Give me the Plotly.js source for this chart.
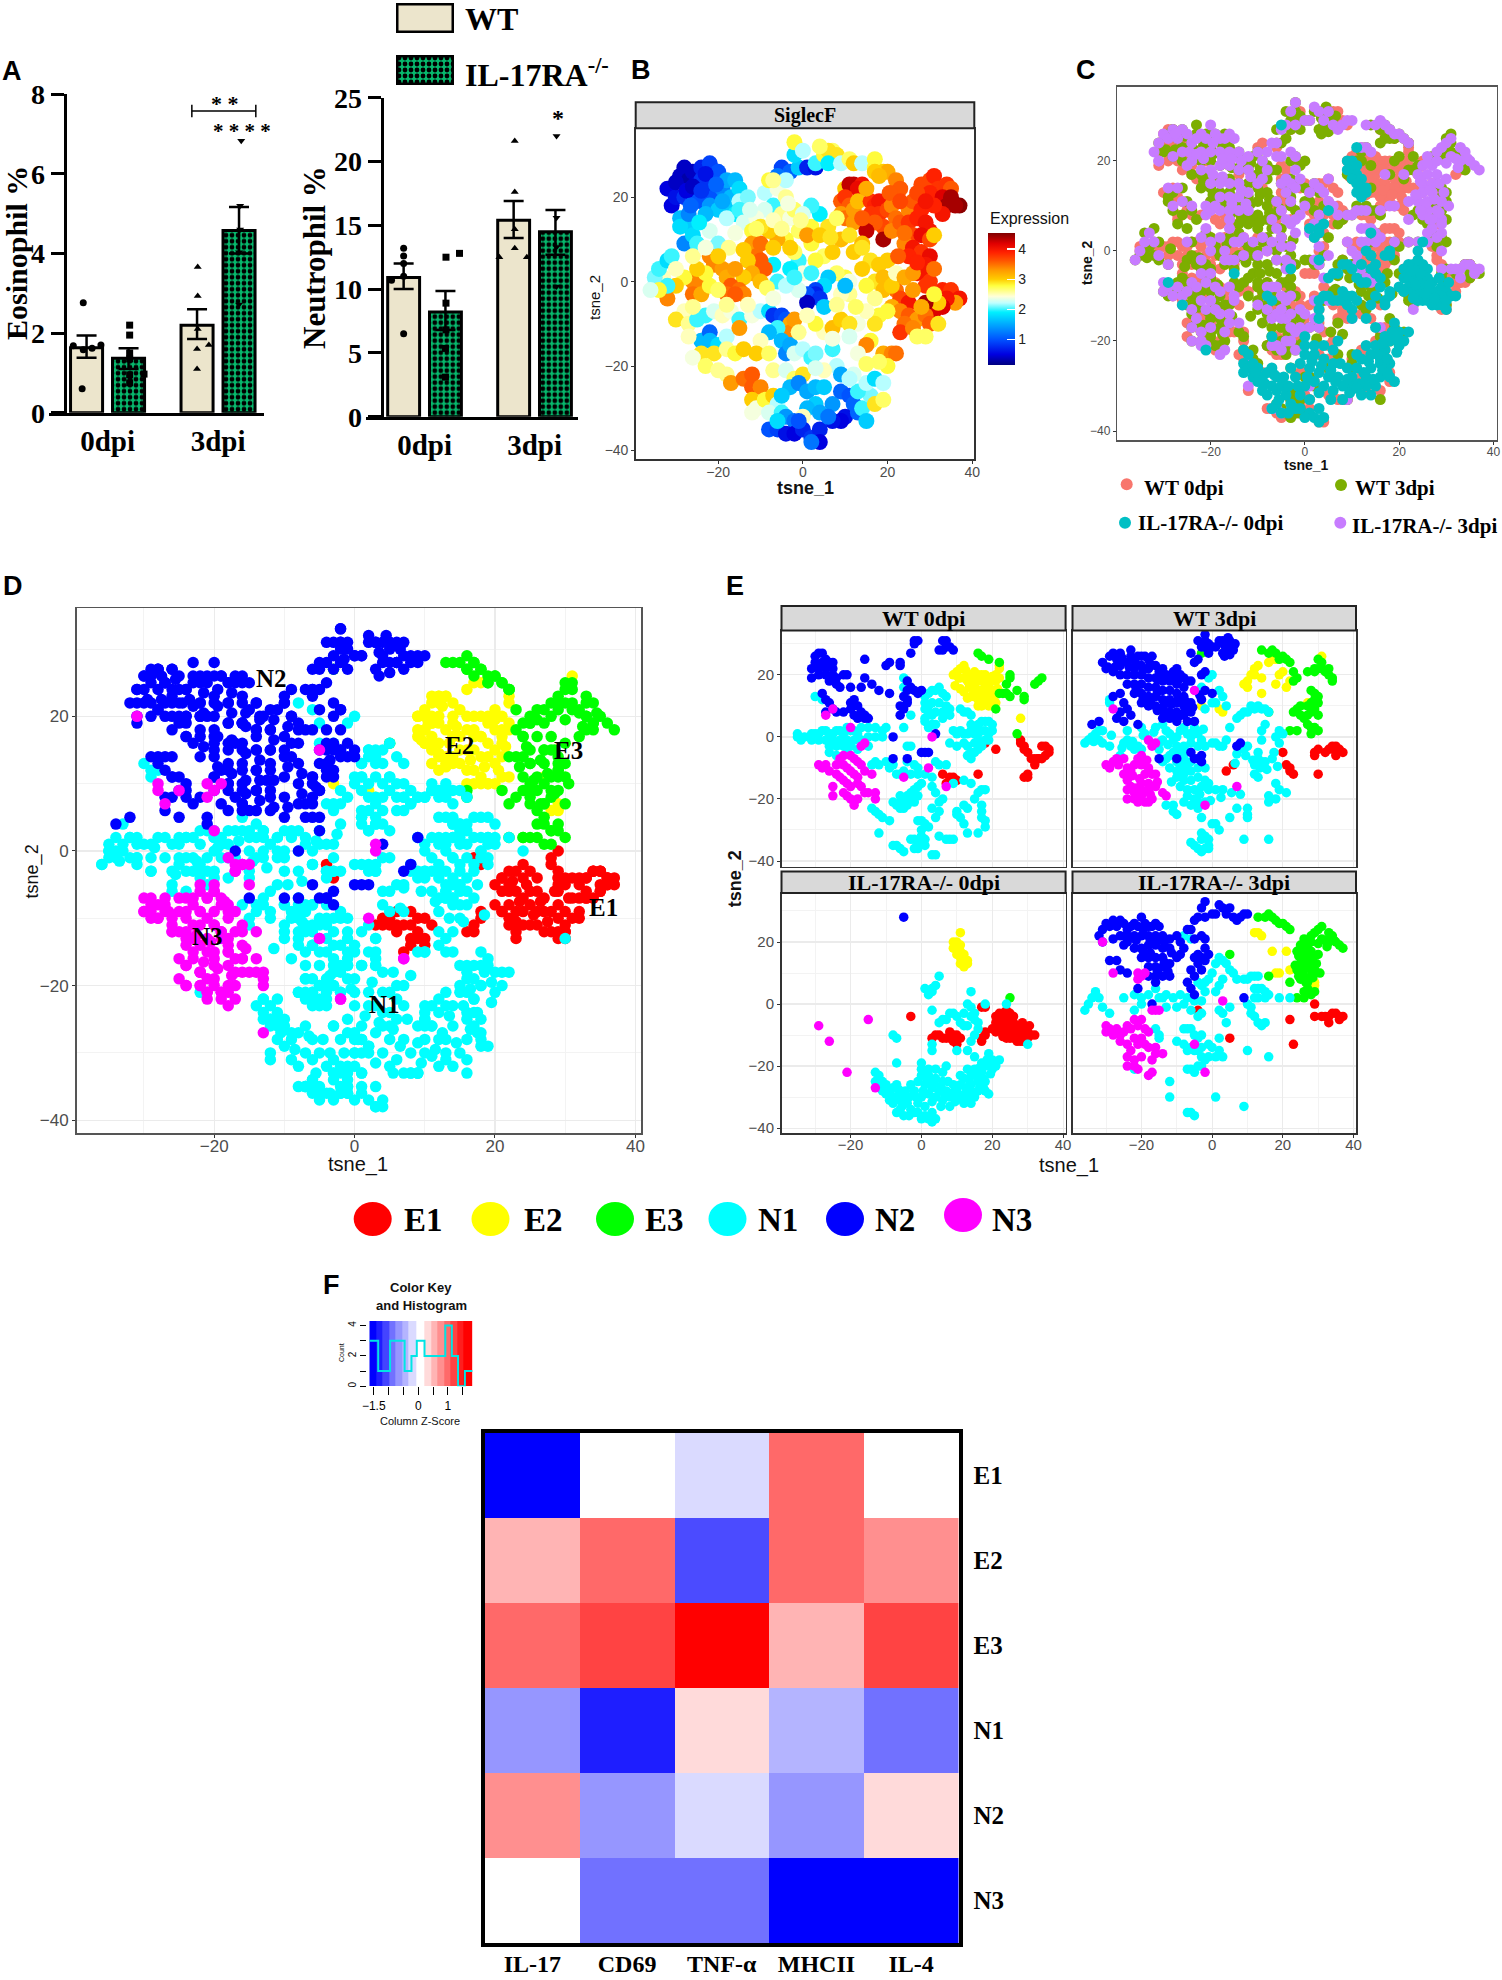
<!DOCTYPE html>
<html>
<head>
<meta charset="utf-8">
<script src="https://cdn.plot.ly/plotly-3.0.1.min.js"></script>
<style>body{margin:0;background:#fff}</style>
</head>
<body>
<div id="fig" style="width:1502px;height:1980px"></div>
<script>
// A: bar values
const dpiLabels = ["0dpi", "3dpi"];
const eosWT = [1.63, 2.2], eosWTup = [0.31, 0.4], eosWTdn = [0.25, 0.35];
const eosKO = [1.37, 4.58], eosKOup = [0.25, 0.59], eosKOdn = [0.27, 0.58];
const neuWT = [10.9, 15.4], neuWTup = [1.1, 1.5], neuWTdn = [0.9, 1.4];
const neuKO = [8.2, 14.5], neuKOup = [1.65, 1.7], neuKOdn = [1.4, 1.8];
// scatter on the bars, x,y pairs
const eosPtsWT0 = [-.31,1.68, -.22,1.58, -.14,1.62, -.06,1.7, -.23,.6, -.22,2.76];
const eosPtsKO0 = [.2,2.2, .2,1.95, .2,1.5, .2,1.35, .2,.95, .33,.97, .2,.75];
const eosPtsWT3 = [.816,3.66, .816,2.93, .816,2.1, .81,1.6, .81,1.1, .917,1.7];
const eosPtsKO3 = [1.21,6.83, 1.2,5.2, 1.2,4.6, 1.19,4.03, 1.19,2.72];
const neuPtsWT0 = [-.19,13.2, -.19,12.6, -.19,12, -.19,11, -.3,10.7, -.19,6.5];
const neuPtsKO0 = [.195,12.5, .318,12.8, .195,8.9, .195,6.8, .19,5.35, .19,3.1];
const neuPtsWT3 = [.82,21.6, .82,17.6, .82,14.7, .82,13.2, .68,12.5, .93,12.5];
const neuPtsKO3 = [1.2,22, 1.2,15.6, 1.2,13.3, 1.2,10.2];

// B: SiglecF, x,y,expression triples
const siglec = [-31,18,.5,-32,22,.5,-30,20,.6,-29,25,.4,-28,27,.4,-27,24,.3,-26,26,.4,-25,23,.5,-24,27,.7,-24,24,.8,-22,23,.8,-22,28,.9,-20,26,1,-21,20,1,-19,22,1.3,-18,24,1.5,-17,20,1.6,-16,24,1.6,-15,22,1.8,-28,20,.8,-26,20,1,-24,19,1,-22,18,1.4,-20,17,1.7,-18,18,1.7,-16,16,1.9,-15,19,2.2,-13,20,2.1,
-29,15,1.6,-27,13,1.7,-29,13,1.8,-28,9,1.3,-27,16,1.3,-26,11,1.8,-25,9,2,-22,12,2.3,-20,9,2.1,-18,15,2.2,-15,17,2,-14,14,2.3,
-9,21,2.2,-7,18,2,-9,17,2.3,-6,22,2.4,-4,20,2.6,-5,16,2.6,-3,15,2.4,-2,17,2.7,-8,24,2.8,-11,15,2.4,
-5,27,.9,-3,26,1.1,-1,27,1.7,1,27,.7,3,27,.6,-2,30,1.8,-2,33,2.8,0,31,2.2,3,28,2,5,30,2.8,7,31,2.7,6,31,2.9,4,32,2.7,8,30,2.9,6,28,1.9,9,28,2.2,11,29,2.7,12,28,3,14,28,2.2,17,29,2.8,-6,25,1.2,-4,24,2.2,-7,24,2.6,
10,22,3,11,23,4.3,12,23,4.3,14,23,4,13,22,4.1,9,19,3.6,10,20,3.8,11,18,3.6,9,16,3.3,10,15,3.5,12,14,3.3,12,17,3.3,13,19,3.1,
17,27,2.8,19,26,3,20,26,3.2,17,26,3,22,24,3.4,23,22,3.6,18,25,3.1,
16,19,3.8,17,18,3.9,18,19,4,16,16,3.8,18,16,3.8,20,17,3.7,19,13,3.7,17,14,3.6,15,12,4.3,19,10,4.4,21,18,3.4,22,15,3.5,21,12,3.4,23,14,3.6,25,17,3.4,26,19,3.6,25,14,3.8,27,15,3.9,26,11,3.7,28,17,3.9,29,14,4,30,12,4,28,11,4.1,30,10,3.7,31,11,3,24,9,3.4,26,8,4,28,7,3.8,30,6,4.1,25,6,3.9,29,4,4,27,2,4,29,2,4,30,0,3.8,29,-1,3.8,
28,23,3.7,30,24,3.7,31,25,3.9,32,22,3.8,30,21,3.9,34,23,3.8,35,22,3.6,33,20,4.2,35,20,4.4,37,18,4.5,34,18,4.4,36,18,4.4,33,16,4,31,18,3.9,27,21,3.7,29,19,4,
33,-2,3.9,35,-2,3.8,37,-4,4,36,-5,3.3,34,-4,4,33,-6,4.2,31,-7,4.2,32,-5,3,29,-5,4.4,31,-3,2.8,
22,-2,3.5,23,-4,3.7,25,-5,4,26,-2,3.3,21,-6,3.2,23,-7,3.4,25,-8,3.6,27,-9,3.3,29,-8,3.5,30,-10,3.6,24,-10,3.5,23,-12,3.8,26,-11,3.4,20,-7,2.8,28,-6,3.2,29,-13,2.7,27,-13,2.7,32,-10,2.9,
16,5,2.9,18,4,3,20,5,3,17,0,2.9,15,-1,2.8,19,1,3.1,19,-2,3.1,21,-1,3,22,2,2.5,24,1,3.2,26,2,3.3,17,-4,2.6,14,3,3,18,-8,2.8,17,-10,2.9,16,-14,2.8,15,-15,3.4,19,-17,3.2,21,-17,3.4,22,-17,3.5,20,-20,2.8,18,-19,2.7,13,-10,2.4,15,-7,2.5,11,-3,2.6,9,-3,2.5,
10,1,2.8,11,0,2.4,8,2,2.7,6,1,1.7,5,-1,1.8,10,-1,1.6,3,-2,.9,3,-3,.7,1,-3,1,4,-4,.8,1,-5,.4,5,-6,1.7,-1,-2,2.3,
2,9,2.8,5,6,2.7,7,7,3,9,10,3.1,11,11,2.9,14,9,3.1,12,7,3,14,8,2.9,3,5,2.8,-1,5,2,0,2,2.4,2,2,2,-3,3,1.9,-6,0,2,-4,-1,2.2,-7,4,1.9,-2,7,2.7,2,13,2.8,4,16,1.9,6,13,2.9,8,15,2.7,2,18,2,0,16,2.3,-1,12,2.7,1,11,3.3,-4,10,2.8,-6,10,3.2,-8,12,3,-10,13,2.9,-12,12,2.8,-12,9,3.3,-10,9,3.5,-7,8,3,-3,8,3,-11,6,3.5,-10,5,3.6,-13,5,3,-9,3,3.6,-12,2,3.2,-10,0,3.1,-14,1,3,
-22,6,3.4,-21,4,3.4,-19,3,3.3,-18,1,3.2,-16,3,3.3,-17,-1,3.6,-15,-2,3.5,-14,-3,3.4,-18,-3,3.5,-16,-3,3.6,-24,-1,3.4,-26,0,3.4,-26,-3,3.5,-24,-3,3.2,-22,-1,2.8,-20,-2,2.7,-28,1,2.8,-30,-1,3,-32,-4,3.4,-33,1,2.5,-35,-1,2.2,-35,1,2.1,-34,3,2,-32,5,1.8,-31,6,2,-30,3,2.5,-32,-1,2,-34,-2,2.8,-36,-2,2.3,-23,2,2.8,-25,3,3,-26,6,2.6,-23,8,2.4,
-28,-7,2.5,-30,-9,2.9,-27,-10,2.6,-25,-9,2,-23,-8,2,-21,-7,2.3,-19,-8,2.5,-17,-7,2.4,-15,-9,2,-24,-14,1.6,-22,-12,1.1,-22,-14,1.6,-20,-15,1.8,-18,-13,2.2,-15,-11,3.3,-27,-13,2.5,-24,-17,2.9,-21,-17,2.9,-18,-16,2.6,-16,-17,2.8,-14,-16,3,-26,-18,2.4,-23,-20,2.7,-20,-21,2.6,-18,-22,2.6,-17,-24,3.3,-14,-23,3.5,-12,-22,3.6,-12,-25,3.6,-10,-25,3.4,
-12,-8,2.4,-10,-7,2.2,-8,-7,1.8,-7,-8,.8,-5,-8,.9,-4,-9,1,-3,-10,3.2,-3,-12,3.4,-2,-9,3.3,-6,-11,2,-8,-12,1.6,-5,-14,1.6,-4,-17,1.3,-3,-15,1.5,-10,-14,2.5,-11,-17,3,-8,-17,2.7,-2,-17,2.3,0,-16,2.2,2,-18,2,3,-17,2.1,5,-12,2.5,3,-10,2.8,7,-11,3.1,9,-9,3,11,-10,2.9,7,-16,2,8,-20,2.2,5,-21,2.5,9,-22,1.5,-7,-21,2.6,-4,-21,2.3,-2,-23,2.7,0,-22,2.9,
-12,-28,3,-11,-30,2.4,-12,-31,2.4,-9,-28,2.8,-7,-27,3,-6,-29,2.2,-8,-31,2.3,-5,-31,2,-3,-25,1.6,-1,-24,1.3,1,-26,1.5,3,-25,1.6,3,-29,1.7,1,-30,1.6,4,-31,1.5,7,-29,1.4,9,-26,1.1,11,-27,1,12,-29,1.1,10,-32,.6,9,-33,.5,7,-33,.6,13,-31,1.1,14,-30,2,16,-27,2.1,17,-29,2.9,15,-33,1.7,13,-26,2,15,-24,2.2,17,-23,1.8,12,-22,2.3,-4,-32,1.4,-2,-33,1.2,0,-32,2.5,-8,-35,1,-6,-35,.9,-4,-36,.6,-2,-36,.5,0,-35,.7,2,-37,.8,4,-35,.7,4,-38,.5,2,-38,1.2,-1,-33,1,
-30,23.5,.4,-27.5,21.5,.5,-26,22.5,.4,-24,21.5,.8,-23,25.5,.6,-20.5,23,1.1,-19,19,1.5,-23,16,1.6,-24.5,14,1.9,-26.5,18,1.1,-12.5,17,2.3,-11,12.5,2.7,-7,14.5,2.5,-5,12.5,2.6,-3.5,18.5,2.4,-.5,14.5,2.6,4,11,3,6.5,10.5,2.9,-16,11.5,2.4,-17.5,8,2.6,-14,7.5,3,-20,6,3,-8.5,-1.5,2.7,-2,1,2,8,-5.5,2.6,12.5,-6,2.7,-18,-5.5,2.6,-13,-5.5,2.5,-26,-6,2.6,-7,-4,2.4,1,-8,2.5,-1,-12,2.6,7,-13.5,2.4,11,-13,2.3,13,-17,2.4,15,-19.5,2.7,3,-20.5,2.3,5,-25,1.7,-5,-27,1.7,11,-23,2.2,19,-24,2.2,19,-28,2.7,6,-32,1.2,-6,-33,1.8,20.5,21,3.6,23,19,3.7,24,11.5,3.5,22.5,6,3.6,27,4.5,3.9,31,3,3.5,15,22,3.2,14,15,3.6];

// C, D, E share these: one x,y pair list per condition and cluster
const wt0E1 = [28,-1,28,-2,29,-3,29,-4,30,-5,31,-7,32,-7,33,-7,34,-7,35,-6,36,-5,36,-4,35,-3,34,-3,33,-7,32,-9,30,-12,30,-13,29,-13,6,-12,8,-13,8,-14,9,-13,10,-14,7,-15,16,-12,21,-4,18,-2];
const wt0E2 = [9,20,10,21,11,22,12,23,11,19,12,19,13,18,14,17,14,20,15,21,16,20,17,20,18,20,19,19,20,18,21,20,22,22,22,23,22,19,15,17,16,18,17,18,18,17,19,16,20,15,21,14,15,15,16,15,17,15,18,14,19,14,20,13,14,13,15,13,16,12,17,12,18,11,19,10,20,10,21,11,17,10,16,10,28,6,10.5,19,12.5,21.5,13.5,16,14.5,18.5,16.5,13.5,18.5,12.5,20.5,12,21.5,15.5,21,18,20,19.5,9.5,16.5,11,15.5,12,14.5,13,12.5];
const wt0E3 = [16,27,17,26,19,25,22,24,25,20,25,19,24,17,23,14,24,14,25,13,27,15,29,13,29,12,32,17,34,19,33,18,22,14,21,9,27,1];
const wt0N1 = [-35,1,-35,0,-34,-1,-33,0,-31,1,-30,1,-29,1,-28,2,-27,2,-26,1,-25,1,-24,2,-23,2,-22,1,-21,3,-20,2,-19,2,-18,1,-17,3,-15,3,-13,3,-11,2,-10,3,-31,-1,-29,-1,-27,-1,-25,-1,-23,-1,-21,-1,-19,-1,-17,-1,-15,0,-13,0,-11,0,-26,-3,-24,-3,-22,-3,-20,-3,-18,-4,-15,-3,-26,-5,-24,-6,-21,-5,-30,13,-28,12,-5,19,-5,16,
1,13,2,14,3,15,4,15,5,16,6,14,7,13,1,11,2,10,3,11,5,11,7,10,1,9,2,8,3,7,4,8,6,8,7,8,8,9,8,7,1,6,1,5,3,4,2,3,4,4,6,6,-5,3,-3,7,
11,9,12,8,13,8,14,7,14,4,15,3,16,4,17,5,18,5,19,5,20,4,9,2,10,1,11,2,12,1,13,1,14,2,15,1,16,1,17,2,18,2,19,1,20,2,8,-2,10,-3,12,-2,13,-3,15,-2,16,-1,17,-2,18,-1,19,-1,14,-5,15,-5,13,-6,14,-7,16,-4,17,-3,
-14,-9,-13,-8,-12,-9,-10,-8,-8,-9,-9,-10,-7,-12,-4,-8,-5,-11,-3,-12,-1,-12,-2,-9,-3,-3,-4,-3,1,-12,3,-13,4,-8,5,-9,7,-9,3,-16,4,-18,9,-15,12,-14,14,-15,17,-17,18,-17,16,-18,15,-20,17,-22,
-7,-22,-6,-21,-5,-20,-6,-19,-4,-19,-3,-18,-2,-17,-1,-16,0,-15,-3,-20,-5,-23,-2,-21,-4,-22,-1,-19,-8,-21,-6,-23,
-14,-23,-13,-24,-12,-25,-11,-26,-9,-27,-12,-31,-8,-35,-7,-35,-6,-36,-5,-37,-3,-33,-2,-33,-1,-34,0,-32,1,-33,1,-35,-1,-36,-2,-36,0,-30,-1,-27,0,-27,1,-28,2,-29,3,-38,4,-38,5,-32,7,-33,8,-33,9,-33,13,-31,16,-31,18,-27,18,-29,17,-26,17,-24,12,-28,11,-26,10,-24,12,-22,13,-23,5,-24,4,-26,3,-23,6,-20,5,-21,10,-25,-6,-12,-1,-10];
const wt0N2 = [-30,26,-29,27,-28,27,-30,24,-28,24,-27,25,-26,24,-25,24,-31,22,-29,22,-27,22,-25,22,-31,19,-29,20,-27,20,-25,20,-24,19,-22,20,-21,20,-26,18,-24,17,-23,16,-20,16,-17,16,-16,19,-14,17,-16,25,-12,15,-9,14,-10,23,-9,24,-6,24,-6,23,-4,18,-3,16,-4,15,-5,13,-4,12,-2,15,0,15,-1,14,-6,10,-5,9,-4,11,-6,7,
-28,14,-27,12,-26,11,-25,9,-24,8,-22,8,-20,11,-19,12,-20,9,-18,10,-17,8,-16,7,-19,7,-18,6,-16,6,-15,6,-27,8,-2,31,-2,30,-1,31,-3,27,6,31,7,31,7,29,6,28,5,28,8,29,9,28,-8,0,-8,-7,-4,-7,1,-5,0,-5,2,-5,4,1];
const wt0N3 = [-29,-9,-28,-10,-27,-9,-26,-11,-24,-9,-23,-7,-22,-6,-20,-6,-19,-7,-18,-8,-17,-9,-22,-9,-21,-10,-20,-11,-19,-12,-18,-13,-16,-11,-14,-12,-17,-3,-16,-2,-24,-12,-23,-13,-22,-14,-21,-15,-18,-15,-17,-16,-20,-16,-25,-16,-25,-19,-22,-18,-21,-19,-20,-20,-19,-21,-18,-20,-16,-18,-15,-18,-13,-18,-13,-20,-19,-22,-27,7,-25,9,-20,3,-5,-13,3,0,2,-10,7,-16];

const wt3E1 = [29,-5,30,-4,29,-6,32,-5,33,-4,34,-3,35,-3,35,-5,36,-4,37,-5,35,-6,30,-12,21,-9,22,-10,22,-11,23,-12,4,-11,6,-9,20,-5];
const wt3E2 = [9,17,10,16,10,18,11,20,12,22,13,23,12,20,14,19,14,14,16,24,17,25,18,25,20,21,19,20,18,17,22,18,21,16,2,9,3,8,-3,10,27,11,31,26];
const wt3E3 = [14,28,16,27,17,28,18,27,19,25,20,26,21,25,22,24,24,19,23,21,30,25,31,24,29,22,30,22,31,22,32,21,33,22,34,19,33,20,34,18,29,21,27,21,23,18,28,15,29,14,30,13,29,12,30,11,28,11,27,10,25,10,24,9,23,8,25,7,26,6,27,7,28,8,29,9,30,7,27,4,28,3,29,3,28,1,30,2,22,2,24,2,16,8,-3,27];
const wt3N1 = [-36,-2,-35,-1,-34,0,-33,1,-32,2,-31,2,-32,-1,-31,-2,-29,-3,-26,-6,-25,-2,-24,-1,-23,-3,-22,-4,-21,-3,-20,-4,-24,2,-20,3,-19,1,-18,-1,-16,3,-14,4,-13,2,-12,1,-11,-1,-10,0,-9,2,-8,3,-7,1,-6,0,-5,3,-4,1,-3,-1,-10,-3,-8,-3,-6,-2,-4,-3,-2,-3,-14,-1,-15,-4,
7,6,8,7,9,8,10,8,11,10,12,9,13,10,14,9,15,9,16,8,4,10,3,13,2,15,-1,19,0,20,-3,16,-29,11,-29,12,0,11,1,11,-2,9,19,2,20,1,18,0,19,-2,15,4,14,2,14,-1,5,3,4,-1,3,-3,2,-3,1,-2,0,-2,10,-3,9,-4,13,-5,13,-7,14,-8,15,-8,17,-7,12,-9,12,-12,13,-13,19,-17,18,-20,21,-18,16,-19,
-14,-8,-13,-7,-12,-6,-11,-5,-10,-8,-9,-9,-8,-7,-7,-9,-6,-8,-12,-10,-10,-11,-8,-12,-6,-11,-4,-10,-2,-10,-10,-13,-8,-14,-6,-14,-4,-13,-2,-14,-1,-15,-9,-16,-7,-17,-5,-17,-3,-16,-1,-17,1,-17,3,-17,-7,-19,-5,-20,-4,-21,-8,-21,-2,-21,-6,-22,-4,-23,
-13,-22,-11,-22,-11,-24,-10,-25,-3,-26,0,-28,1,-28,2,-30,5,-26,7,-23,10,-23,10,-25,10,-26,9,-33,16,-33,-6,-34,-5,-35,-4,-36,-3,-37,-2,-36,-1,-36,-3,-33,-2,-32,-3,-31,-1,-33,-1,-35,16,-21,18,-15,
-33.5,-1.5,-28.5,.5,-25.5,-3.5,-22.5,-1.5,-19.5,.5,-16.5,1.5,-14.5,-1.5,-12.5,-2.5,-9.5,-5,-7.5,-4.5,-5.5,1.5,-2.5,2.5,9.5,-6,11.5,-7.5,13.5,-10,15.5,-10.5,17.5,-5,18.5,-9.5,6.5,-8.5,7,-5.5,-11.5,-14.5,-7.5,-10.5,-3.5,-18.5,-.5,-20.5,2.5,-19.5,5.5,-18,8,-18.5];
const wt3N2 = [-31,24,-30,22,-29,26,-28,27,-27,25,-26,27,-26,23,-28,21,-23,28,-24,24,-23,26,-22,25,-21,26,-20,26,-19,26,-18,25,-17,26,-22,22,-20,23,-18,22,-16,23,-15,21,-14,22,-13,20,-11,21,-10,22,-9,20,-8,19,-7,18,-26,20,-24,20,-22,20,-20,20,-18,19,-16,19,-14,18,-12,18,-10,17,-8,16,-24,17,-22,17,-20,17,-18,16,-16,16,-14,15,-12,15,-10,14,-8,13,-22,14,-20,14,-18,13,-16,13,-14,12,-12,12,-10,11,-8,10,-6,11,-20,11,-18,10,-16,10,-14,9,-12,8,-10,8,-8,7,-6,8,-14,6,-12,6,-10,5,-7,5,-5,5,-26,14,-28,13,-25,11,-24,9,-26,8,-27,6,-25,5,-23,7,-34,4,-32,5,-21,4,-2,15,0,14,-3,12,-6,18,-3,20,-2,21,-4,25,-5,24,
-6,27,-3,29,-2,33,-2,31,-1,30,0,29,1,29,2,31,3,31,4,31,5,31,5,30,4,28,3,27,6,28,-1,27,-15,-7,-10,-7,-6,-5,-5,-7,-4,-7,-3,-8,-3,-6,8,-2,7,-3,
-29.5,22.5,-27.5,22.5,-25.5,25.5,-23.5,22.5,-21.5,23.5,-19.5,21.5,-17.5,23.5,-15.5,18.5,-13.5,19.5,-11.5,19.5,-9.5,18.5,-21.5,15.5,-19.5,12.5,-17.5,11.5,-15.5,14.5,-13.5,10.5,-11.5,10.5,-9.5,12.5,-7.5,11.5,-15.5,8.5,-13.5,7.5,-11.5,6.5,-9.5,6.5,-7.5,8.5,-5.5,9.5,-3.5,13.5,3.5,29.5,4.5,32,6.5,30,3.5,26,5,26.5,-1.5,28.5,-4,31];
const wt3N3 = [-30,-9,-29,-10,-28,-8,-27,-7,-25,-7,-24,-10,-25,-12,-24,-14,-23,-11,-22,-9,-21,-7,-20,-6,-20,-9,-19,-12,-18,-10,-17,-12,-16,-12,-24,-17,-23,-16,-22,-18,-24,-20,-22,-20,-21,-21,-20,-19,-19,-21,-18,-21,-17,-20,-18,-17,-16,-16,-14,-18,-13,-19,-20,-15,-18,-15,-17,-3,-18,-1,-16,-2,-5,15,-28,9,7,-16,-2,-22,-26.5,-9,-22.5,-12.5,-20.5,-13.5,-18.5,-7.5,-15.5,-14.5,-19.5,-17.5,-17.5,-18.5,-21.5,-16.5];

const ko0E1 = [21,-4,22,-3,23,-3,24,-4,25,-3,26,-4,21,-6,22,-6,23,-6,24,-7,25,-6,26,-6,27,-7,22,-8,23,-9,24,-9,25,-8,26,-9,27,-9,28,-9,29,-8,30,-9,31,-10,32,-10,29,-10,24,-11,25,-11,26,-11,27,-12,28,-12,29,-12,30,-11,18,-1,17,-1,24,-2,3,-11,4,-10,5,-10,6,-11,7,-11,8,-9,8,-11,9,-12,9,-10,10,-10,10,-13,11,-11,18,-10,18,-9,17,-11,17,-12,-3,-4,22.5,-4.5,24.5,-5,26.5,-7.5,23.5,-7.5,25.5,-9.5,27.5,-10.5,23,-10.5,20,-8,21,-9,30.5,-7,28.5,-6];
const ko0E2 = [9,20,10,20,11,23,9,18,10,18,11,19,11,17,10,16,12,16,11,15,12,14,13,14,13,13,12,12,11,13];
const ko0E3 = [25,2];
const ko0N1 = [5,9,4,6,3,5,1,5,2,3,3,4,14,4,13,0,14,-1,18,0,15,-3,15,-5,16,-6,5,-6,6,-5,7,-5,8,-3,9,-3,10,-4,11,-6,12,-7,13,-7,14,-4,12,-3,16,-8,24,0,30,-13,3,-2,-8,-10,-7,-11,-7,-19,10,-15,13,-15,14,-12,15,-10,3,-13,3,-15,
-13,-22,-12,-23,-13,-25,-12,-26,-11,-25,-10,-26,-11,-28,-9,-28,-10,-29,-8,-27,-7,-26,-6,-28,-7,-30,-9,-31,-8,-32,-6,-31,-5,-30,-4,-32,-6,-34,-7,-35,-5,-36,-3,-34,-2,-35,-1,-35,1,-36,0,-37,2,-37,3,-38,4,-37,3,-35,-1,-32,1,-33,0,-30,-2,-28,-3,-26,-1,-25,0,-23,0,-21,0,-19,2,-21,4,-21,6,-22,2,-23,4,-24,6,-25,1,-26,3,-27,5,-28,7,-28,2,-29,4,-30,6,-31,8,-30,10,-30,8,-33,9,-26,10,-28,12,-32,14,-32,15,-30,13,-28,11,-26,12,-24,14,-26,16,-28,18,-28,19,-29,14,-23,15,-21,13,-21,16,-24,17,-22,18,-20,20,-21,21,-20,22,-18,20,-18,19,-16,18,-25,17,-19,15,-17,16,-25,13,-30,11,-23,7,-20,
-10.5,-27,-8.5,-29.5,-6.5,-27.5,-4.5,-28,-3.5,-30,-5.5,-33,-3.5,-36,-1.5,-30,.5,-28,1.5,-24.5,3.5,-25.5,5.5,-26.5,7.5,-25,3,-31.5,5.5,-33,6.5,-29,9.5,-31.5,11.5,-29.5,12.5,-27,14.5,-28.5,16.5,-26.5,17.5,-27,15.5,-23,17.5,-24,19.5,-22.5,18.5,-18,19.5,-19.5,16.5,-20.5,13.5,-24.5,11,-30.5,9,-28.5];
const ko0N2 = [-5,28];
const ko0N3 = [-29,-7,-26,-12,-15,-5,-21,-22,-13,-27];

const ko3E1 = [29,0,29,-4,31,-4,32,-4,33,-4,33,-6,34,-3,35,-3,36,-4,37,-4,36,-5,22,-5,23,-13,5,-11,-4,-2];
const ko3E2 = [12,23,13,23,14,22,17,17,21,17,18,10,19,10,22,11,29,7,29,6];
const ko3E3 = [13,28,15,28,16,29,17,28,18,27,19,26,20,26,21,25,22,24,5,16,16,9,22,7,31,25,30,24,29,23,28,22,33,23,34,22,35,20,36,19,37,18,31,21,33,20,26,21,25,19,27,19,24,17,26,17,28,17,25,15,27,15,25,13,27,13,24,11,26,11,29,11,26,9,28,9,25,8,27,7,27,5,28,3,26,2,24,2,26,4,29,4,
24.5,15.5,26.5,13.5,28.5,15,23.5,12.5,25.5,10.5,27.5,11.5,24.5,9,26.5,7,28.5,8.5,30.5,10,29.5,13,30,16,32.5,18.5,34.5,20.5,32,20.5,30,19.5,28,20,26,19.5];
const ko3N1 = [-36,-2,-35,0,-34,2,-33,4,-32,2,-31,-1,-29,-3,-25,2,-22,3,-20,2,-18,3,-16,5,-15,2,-14,2,-13,3,-11,2,-9,3,-7,2,-5,1,-3,1,-2,4,-20,0,-22,-2,-13,-1,-10,-1,-8,0,-6,-2,-3,-3,-6,21,-8,22,0,10,1,13,2,15,3,14,4,13,5,11,6,10,-1,8,-2,7,-3,6,-4,7,3,8,2,6,1,4,
7,8,9,8,10,8,11,9,12,9,13,9,12,5,13,5,14,5,15,4,16,3,15,2,22,2,19,2,12,2,13,2,10,0,11,-1,11,-3,12,-4,13,-6,14,-7,15,-6,5,-1,3,-3,2,-2,4,-6,2,-11,10,-15,16,-17,-4,-4,
-16,-8,-15,-10,-15,-11,-8,-8,-7,-8,-6,-8,-5,-10,-4,-11,-3,-10,-10,-12,-8,-13,-7,-15,-6,-14,-5,-15,-4,-15,-3,-14,-1,-13,0,-14,1,-17,-1,-17,-3,-17,3,-17,2,-15,-7,-21,-6,-21,-5,-22,-4,-20,-3,-20,-2,-18,-12,-25,-12,-30,-7,-35,-6,-35,-5,-36,1,-30,9,-33,-22,-21];
const ko3N2 = [-32,22,-31,20,-31,24,-30,26,-29,25,-28,27,-27,25,-26,27,-25,26,-28,21,-26,22,-25,19,-24,24,-23,25,-22,26,-21,25,-20,28,-19,26,-18,25,-17,25,-16,26,-15,25,-24,20,-22,22,-20,22,-18,22,-16,22,-14,22,-12,21,-10,22,-9,20,-8,18,-9,16,-22,18,-20,18,-18,19,-16,19,-14,18,-12,18,-10,15,-20,15,-18,15,-16,15,-14,15,-12,13,-29,14,-27,14,-26,11,-24,10,-18,12,-16,12,-14,12,-18,9,-16,9,-14,9,-16,7,-12,9,-21,5,
-6,11,-5,9,-7,7,-6,5,-5,3,-4,13,-3,15,-2,14,-4,16,-5,15,-1,16,-3,11,-2,18,-5,21,-6,24,-7,24,-3,22,-2,21,-5,27,-4,28,-2,28,-2,33,-3,31,0,29,1,29,2,32,3,31,4,29,5,31,6,28,7,27,8,28,9,29,10,29,-17,0,9,2,
-27.5,26,-24.5,22,-21.5,20.5,-19.5,24,-17.5,20.5,-15.5,20.5,-13.5,20,-11.5,16.5,-17.5,16.5,-15.5,10.5,-13.5,13.5,-12.5,10.5,-19.5,17,-23,21.5];
const ko3N3 = [-30,-7,-30,-9,-29,-8,-28,-10,-27,-8,-26,-10,-26,-12,-25,-9,-24,-7,-23,-8,-22,-5,-21,-7,-20,-5,-19,-8,-18,-9,-22,-11,-24,-13,-23,-15,-21,-13,-20,-11,-19,-13,-18,-14,-16,-14,-14,-16,-16,-16,-24,-17,-22,-18,-20,-17,-24,-20,-22,-20,-21,-21,-17,-18,-17,-22,-18,-23,-17,-2,-16,-2,-15,-2,-28,10,-21,10,-20,9,-21,8,-19,10,-2,-22,3,1,-5,-13,-31,20];

// F: heatmap z-scores and the colour key histogram
const heatCols = ["IL-17", "CD69", "TNF-α", "MHCII", "IL-4"];
const heatRows = ["E1", "E2", "E3", "N1", "N2", "N3"];
const heatZ = [
  [-1.7, 0, -.25, 1, 0],
  [.5, 1, -1.2, 1, .75],
  [1, 1.25, 1.7, .5, 1.25],
  [-.7, -1.5, .25, -.5, -.95],
  [.75, -.7, -.25, -.7, .25],
  [0, -.95, -.95, -1.7, -1.7]
];
const keyEdges = [-1.65,-1.43,-1.21,-.99,-.77,-.55,-.33,-.05,.21,.43,.65,.87,1.09,1.31,1.53,1.83];
const keyLevels = [-1.7,-1.5,-1.25,-.95,-.7,-.5,-.25,0,.25,.5,.75,1,1.25,1.5,1.7];
const histX = [-1.65,-1.35,-.95,-.46,-.23,-.05,.21,.91,1.13,1.34,1.57,1.83];
const histY = [3,1,3,1,2,3,2,4,2,0,1,1];

const SERIF = "Liberation Serif", SANS = "Liberation Sans";
const W = 1502, H = 1980;
const xs = a => a.filter((v, i) => i % 2 === 0);
const ys = a => a.filter((v, i) => i % 2 === 1);
const domX = (l, r) => [l / W, r / W];
const domY = (t, b) => [1 - b / H, 1 - t / H];

const conditions = [
  {name: "WT 0dpi", color: "#F8766D", cl: [wt0E1, wt0E2, wt0E3, wt0N1, wt0N2, wt0N3]},
  {name: "WT 3dpi", color: "#7CAE00", cl: [wt3E1, wt3E2, wt3E3, wt3N1, wt3N2, wt3N3]},
  {name: "IL-17RA-/- 3dpi", color: "#C77CFF", cl: [ko3E1, ko3E2, ko3E3, ko3N1, ko3N2, ko3N3]},
  {name: "IL-17RA-/- 0dpi", color: "#00BFC4", cl: [ko0E1, ko0E2, ko0E3, ko0N1, ko0N2, ko0N3]}
];
const clusterColors = ["#ff0000", "#ffff00", "#00ff00", "#00ffff", "#0000ff", "#ff00ff"];
const clusterNames = ["E1", "E2", "E3", "N1", "N2", "N3"];

const traces = [];
const layout = {width: W, height: H, margin: {l: 0, r: 0, t: 0, b: 0}, showlegend: false,
  paper_bgcolor: "#fff", plot_bgcolor: "#fff", annotations: [], shapes: []};

function ann(x, y, text, size, opts) {
  layout.annotations.push(Object.assign({xref: "paper", yref: "paper", x: x / W, y: 1 - y / H, text: text,
    showarrow: false, xanchor: "center", yanchor: "middle",
    font: {family: SERIF, size: size, color: "#000", weight: 700}}, opts || {}));
}
function sansAnn(x, y, text, size, color, opts) {
  ann(x, y, text, size, Object.assign({font: {family: SANS, size: size, color: color || "#111"}}, opts || {}));
}

// A
const KO_GREEN = "#06b86c";
const KO_PATTERN = {shape: ".", fgcolor: "#000", bgcolor: KO_GREEN, size: 6, solidity: .5};
function barPanel(n, xDom, yDom, yPos, yMax, dtick, xRange, wt, wtUp, wtDn, ko, koUp, koDn, pts) {
  const xa = "x" + n, ya = "y" + n;
  const base = {type: "bar", xaxis: xa, yaxis: ya, width: [.29, .29], cliponaxis: false};
  const err = (u, d) => ({type: "data", symmetric: false, array: u, arrayminus: d, color: "#000", thickness: 2.5, width: 10});
  traces.push(Object.assign({}, base, {x: [-.19, .81], y: wt, marker: {color: "#ece5cc", line: {color: "#000", width: 3}}, error_y: err(wtUp, wtDn)}));
  traces.push(Object.assign({}, base, {x: [.19, 1.19], y: ko,
    marker: {color: KO_GREEN, line: {color: "#000", width: 3}, pattern: KO_PATTERN},
    error_y: err(koUp, koDn)}));
  pts.forEach((p, i) => traces.push({type: "scatter", mode: "markers", xaxis: xa, yaxis: ya, x: xs(p), y: ys(p), cliponaxis: false,
    marker: {color: "#000", size: 7, symbol: ["circle", "square", "triangle-up", "triangle-down"][i]}}));
  layout["xaxis" + n] = {domain: domX(xDom[0], xDom[1]), range: xRange, anchor: ya, tickvals: [0, 1], ticktext: dpiLabels,
    ticks: "", showline: true, linecolor: "#000", linewidth: 3, zeroline: false, showgrid: false,
    tickfont: {family: SERIF, size: 29, color: "#000", weight: 700}};
  layout["yaxis" + n] = {domain: domY(yDom[0], yDom[1]), range: [0, yMax], anchor: "free", position: yPos / W, dtick: dtick,
    ticks: "outside", ticklen: 13, tickwidth: 3, tickcolor: "#000", showline: true, linecolor: "#000", linewidth: 3,
    zeroline: false, showgrid: false, tickfont: {family: SERIF, size: 28, color: "#000", weight: 700}};
}
barPanel(1, [49, 264], [94.3, 412.7], 64.5, 8, 2, [-.53, 1.416], eosWT, eosWTup, eosWTdn, eosKO, eosKOup, eosKOdn,
  [eosPtsWT0, eosPtsKO0, eosPtsWT3, eosPtsKO3]);
barPanel(2, [365.8, 578], [97.7, 416.7], 381.6, 25, 5, [-.534, 1.395], neuWT, neuWTup, neuWTdn, neuKO, neuKOup, neuKOdn,
  [neuPtsWT0, neuPtsKO0, neuPtsWT3, neuPtsKO3]);
traces.push({type: "scatter", mode: "lines+markers", xaxis: "x1", yaxis: "y1", x: [.763, 1.342], y: [7.58, 7.58],
  line: {color: "#000", width: 1.5}, marker: {symbol: "line-ns-open", size: 9, color: "#000", line: {width: 1.5, color: "#000"}}, cliponaxis: false});
ann(224.6, 103, "* *", 22);
ann(242, 131, "* * * *", 21);
ann(558, 118, "*", 24);
ann(17, 253, "Eosinophil %", 30, {textangle: -90});
ann(314, 258, "Neutrophil %", 31, {textangle: -90});

// legend swatches of A
[[3, "#ece5cc", null, [3, 33]], [4, KO_GREEN, true, [55, 85]]].forEach(s => {
  const n = s[0];
  const marker = {color: s[1], line: {color: "#000", width: 5}};
  if (s[2]) marker.pattern = KO_PATTERN;
  traces.push({type: "bar", xaxis: "x" + n, yaxis: "y" + n, x: [0], y: [1], width: [1], marker: marker, cliponaxis: false});
  layout["xaxis" + n] = {domain: domX(396, 454), range: [-.5, .5], anchor: "y" + n, visible: false};
  layout["yaxis" + n] = {domain: domY(s[3][0], s[3][1]), range: [0, 1], anchor: "x" + n, visible: false};
});
ann(463, 19, "WT", 32, {xanchor: "left"});
ann(463, 73, "IL-17RA<sup>-/-</sup>", 32, {xanchor: "left"});

// tsne panels
function tsneAxes(n, xd, yd, xr, yr, fontSize, opts) {
  opts = opts || {};
  const tick = {ticks: "outside", ticklen: 3, tickwidth: 1, tickcolor: "#333",
    tickfont: {family: SANS, size: fontSize, color: "#4d4d4d"}, showline: true, mirror: true,
    linecolor: opts.line || "#555", linewidth: 1.5, zeroline: false, dtick: 20, tick0: 0,
    showgrid: !!opts.grid, gridcolor: "#ebebeb", gridwidth: 1.2};
  if (opts.grid) tick.minor = {dtick: 10, showgrid: true, gridcolor: "#f3f3f3", gridwidth: 1};
  layout["xaxis" + n] = Object.assign({domain: domX(xd[0], xd[1]), range: xr, anchor: "y" + n, ticklabelstandoff: opts.xStandoff || 0}, tick,
    opts.noX ? {showticklabels: false, ticks: ""} : {});
  layout["yaxis" + n] = Object.assign({domain: domY(yd[0], yd[1]), range: yr, anchor: "x" + n}, tick,
    opts.noY ? {showticklabels: false, ticks: ""} : {});
}
function strip(l, r, t, b, text, size) {
  layout.shapes.push({type: "rect", xref: "paper", yref: "paper", x0: l / W, x1: r / W, y0: 1 - t / H, y1: 1 - b / H,
    fillcolor: "#d9d9d9", line: {color: "#222", width: 2}});
  ann((l + r) / 2, (t + b) / 2, text, size);
}

// B
traces.push({type: "scatter", mode: "markers", xaxis: "x5", yaxis: "y5",
  x: siglec.filter((v, i) => i % 3 === 0), y: siglec.filter((v, i) => i % 3 === 1),
  marker: {size: 16, color: siglec.filter((v, i) => i % 3 === 2), cmin: .15, cmax: 4.54, line: {width: 0},
    colorscale: [[0, "#00007f"], [.08, "#0000e0"], [.19, "#0050ff"], [.31, "#00aaff"], [.4, "#00f0ff"], [.47, "#bfffff"], [.52, "#ffffd8"],
      [.6, "#ffff40"], [.65, "#ffcc00"], [.72, "#ff9900"], [.79, "#ff5500"], [.855, "#ff2000"], [.92, "#e00000"], [1, "#800000"]],
    colorbar: {x: 987.7 / W, xanchor: "left", xpad: 0, y: 1 - 365 / H, yanchor: "bottom", ypad: 0, lenmode: "pixels", len: 132,
      thicknessmode: "pixels", thickness: 27, tickvals: [1, 2, 3, 4], ticks: "inside", ticklen: 8, tickwidth: 1.5, tickcolor: "#fff",
      outlinewidth: 0, tickfont: {family: SANS, size: 14, color: "#222"}}}});
tsneAxes(5, [635.7, 974.3], [128.3, 459], [-39.5, 40.5], [-42, 36.3], 14, {line: "#333", xStandoff: -3});
strip(635.7, 974.3, 102.3, 128.3, "SiglecF", 20);
sansAnn(805.7, 488, "tsne_1", 18, "#111", {font: {family: SANS, size: 18, color: "#111", weight: 700}});
sansAnn(595, 298, "tsne_2", 15, "#111", {textangle: -90});
sansAnn(1029, 218, "Expression", 16);

// C
conditions.forEach(c => {
  const all = [].concat(...c.cl);
  traces.push({type: "scatter", mode: "markers", xaxis: "x6", yaxis: "y6", x: xs(all), y: ys(all),
    marker: {size: 11, color: c.color, line: {width: 0}}});
});
tsneAxes(6, [1117.3, 1496.7], [86.7, 440], [-39.8, 40.7], [-42, 36.5], 12, {line: "#555", xStandoff: -3});
sansAnn(1306.7, 465, "tsne_1", 14, "#111", {font: {family: SANS, size: 14, color: "#111", weight: 700}});
sansAnn(1087, 263, "tsne_2", 14, "#111", {textangle: -90, font: {family: SANS, size: 14, color: "#111", weight: 700}});
[[1126.7, 484.3, "#F8766D"], [1341, 485, "#7CAE00"], [1125, 522.7, "#00BFC4"], [1340.3, 522.7, "#C77CFF"]].forEach(d =>
  layout.shapes.push({type: "circle", xref: "paper", yref: "paper", x0: (d[0] - 6) / W, x1: (d[0] + 6) / W,
    y0: 1 - (d[1] - 6) / H, y1: 1 - (d[1] + 6) / H, fillcolor: d[2], line: {width: 0}}));
ann(1141.7, 488, "WT 0dpi", 21, {xanchor: "left"});
ann(1353, 488, "WT 3dpi", 21, {xanchor: "left"});
ann(1136, 523, "IL-17RA-/- 0dpi", 21, {xanchor: "left"});
ann(1350, 525.7, "IL-17RA-/- 3dpi", 21, {xanchor: "left"});

// D
clusterNames.forEach((nm, k) => {
  const all = [].concat(...conditions.map(c => c.cl[k]));
  traces.push({type: "scatter", mode: "markers", xaxis: "x7", yaxis: "y7", x: xs(all), y: ys(all),
    marker: {size: 11.5, color: clusterColors[k], line: {width: 0}}});
});
tsneAxes(7, [76.6, 641], [608, 1133], [-39.6, 40.8], [-41.9, 36.1], 17, {grid: true, xStandoff: -6});
[["N2", -11.8, 25.7], ["E2", 15, 15.6], ["E3", 30.5, 15], ["E1", 35.5, -8.4], ["N3", -21, -12.7], ["N1", 4.3, -22.8]].forEach(l =>
  layout.annotations.push({xref: "x7", yref: "y7", x: l[1], y: l[2], text: l[0], showarrow: false,
    font: {family: SERIF, size: 25, color: "#000", weight: 700}}));
sansAnn(358, 1164, "tsne_1", 20, "#111");
sansAnn(32.4, 871, "tsne_2", 18, "#111", {textangle: -90});

// E
const eFacets = [
  {n: 8, c: 0, xd: [781.5, 1065.6], yd: [630.5, 866.6], yr: [-41.8, 34.3], noX: true, noY: false, strip: [606, 630.5]},
  {n: 9, c: 1, xd: [1072.5, 1356], yd: [630.5, 866.6], yr: [-41.8, 34.3], noX: true, noY: true, strip: [606, 630.5]},
  {n: 10, c: 3, xd: [781.5, 1065.6], yd: [893, 1133.4], yr: [-41.7, 35.8], noX: false, noY: false, strip: [871.6, 893]},
  {n: 11, c: 2, xd: [1072.5, 1356], yd: [893, 1133.4], yr: [-41.7, 35.8], noX: false, noY: true, strip: [871.6, 893]}
];
eFacets.forEach(f => {
  const c = conditions[f.c];
  c.cl.forEach((p, k) => traces.push({type: "scatter", mode: "markers", xaxis: "x" + f.n, yaxis: "y" + f.n, x: xs(p), y: ys(p),
    marker: {size: 9.5, color: clusterColors[k], line: {width: 0}}}));
  tsneAxes(f.n, f.xd, f.yd, [-39.5, 40.7], f.yr, 15, {grid: true, noX: f.noX, noY: f.noY, line: "#333", xStandoff: -6});
  strip(f.xd[0], f.xd[1], f.strip[0], f.strip[1], c.name, 22);
});
sansAnn(1068.6, 1165, "tsne_1", 20, "#111");
sansAnn(734.7, 878.5, "tsne_2", 18, "#111", {textangle: -90, font: {family: SANS, size: 18, color: "#111", weight: 700}});

// cluster legend
[372.7, 490.5, 615, 727.5, 845, 963].forEach((cx, k) => {
  const cy = k === 5 ? 1215 : 1219;
  layout.shapes.push({type: "circle", xref: "paper", yref: "paper", x0: (cx - 19) / W, x1: (cx + 19) / W,
    y0: 1 - (cy - 17) / H, y1: 1 - (cy + 17) / H, fillcolor: clusterColors[k], line: {width: 0}});
});
[402, 522, 643, 756, 873, 990].forEach((tx, k) => ann(tx, 1220, clusterNames[k], 33, {xanchor: "left"}));

// F colour key
const bwr = [[0, "#0000ff"], [.5, "#ffffff"], [1, "#ff0000"]];
traces.push({type: "heatmap", xaxis: "x12", yaxis: "y12", x: keyEdges, y: [0, 4.3], z: [keyLevels],
  zmin: -1.7, zmax: 1.7, colorscale: bwr, showscale: false});
traces.push({type: "scatter", mode: "lines", xaxis: "x12", yaxis: "y12", x: histX, y: histY,
  line: {shape: "hv", color: "#00e5e5", width: 2}});
layout.xaxis12 = {domain: domX(369.3, 472.6), range: [-1.65, 1.83], anchor: "y12", tickvals: [-1.5, 0, 1],
  ticktext: ["−1.5", "0", "1"], ticks: "outside", ticklen: 8, tickwidth: 1, tickcolor: "#000", tickangle: 0,
  minor: {tickvals: [-1, -.5, .5, 1.5], ticks: "outside", ticklen: 8, tickwidth: 1, tickcolor: "#000"},
  tickfont: {family: SANS, size: 12, color: "#000"}, showgrid: false, zeroline: false};
layout.yaxis12 = {domain: domY(1321, 1386.3), range: [0, 4.3], anchor: "free", position: 366 / W, tickvals: [0, 2, 4],
  ticks: "outside", ticklen: 6, tickwidth: 1, tickcolor: "#000", tickangle: -90,
  minor: {tickvals: [1, 3], ticks: "outside", ticklen: 6, tickwidth: 1, tickcolor: "#000"},
  tickfont: {family: SANS, size: 10, color: "#000"}, showgrid: false, zeroline: false};
ann(421, 1287, "Color Key", 13, {font: {family: SANS, size: 13, color: "#111", weight: 700}});
ann(421, 1305, "and Histogram", 13, {font: {family: SANS, size: 13, color: "#111", weight: 700}});
sansAnn(420, 1421, "Column Z-Score", 11, "#111");
sansAnn(341, 1353, "Count", 7, "#111", {textangle: -90});

// F heatmap
traces.push({type: "heatmap", xaxis: "x13", yaxis: "y13", x: heatCols, y: heatRows, z: heatZ,
  zmin: -1.7, zmax: 1.7, colorscale: bwr, showscale: false});
layout.xaxis13 = {domain: domX(485, 958.5), anchor: "y13", ticks: "", showline: true, mirror: true, linecolor: "#000", linewidth: 4,
  type: "category", ticklabelstandoff: -4, tickfont: {family: SERIF, size: 24, color: "#000", weight: 700}, showgrid: false, zeroline: false};
layout.yaxis13 = {domain: domY(1433, 1943), anchor: "x13", side: "right", autorange: "reversed", type: "category", ticks: "",
  showline: true, mirror: true, linecolor: "#000", linewidth: 4, ticklabelstandoff: 6,
  tickfont: {family: SERIF, size: 25, color: "#000", weight: 700}, showgrid: false, zeroline: false};

// panel letters
[["A", 12, 71], ["B", 641, 70], ["C", 1086, 70], ["D", 13, 586], ["E", 735, 586], ["F", 331, 1285]].forEach(p =>
  ann(p[1], p[2], p[0], 27, {font: {family: SANS, size: 27, color: "#000", weight: 700}}));

Plotly.newPlot("fig", traces, layout, {displayModeBar: false, staticPlot: true});
</script>
</body>
</html>
